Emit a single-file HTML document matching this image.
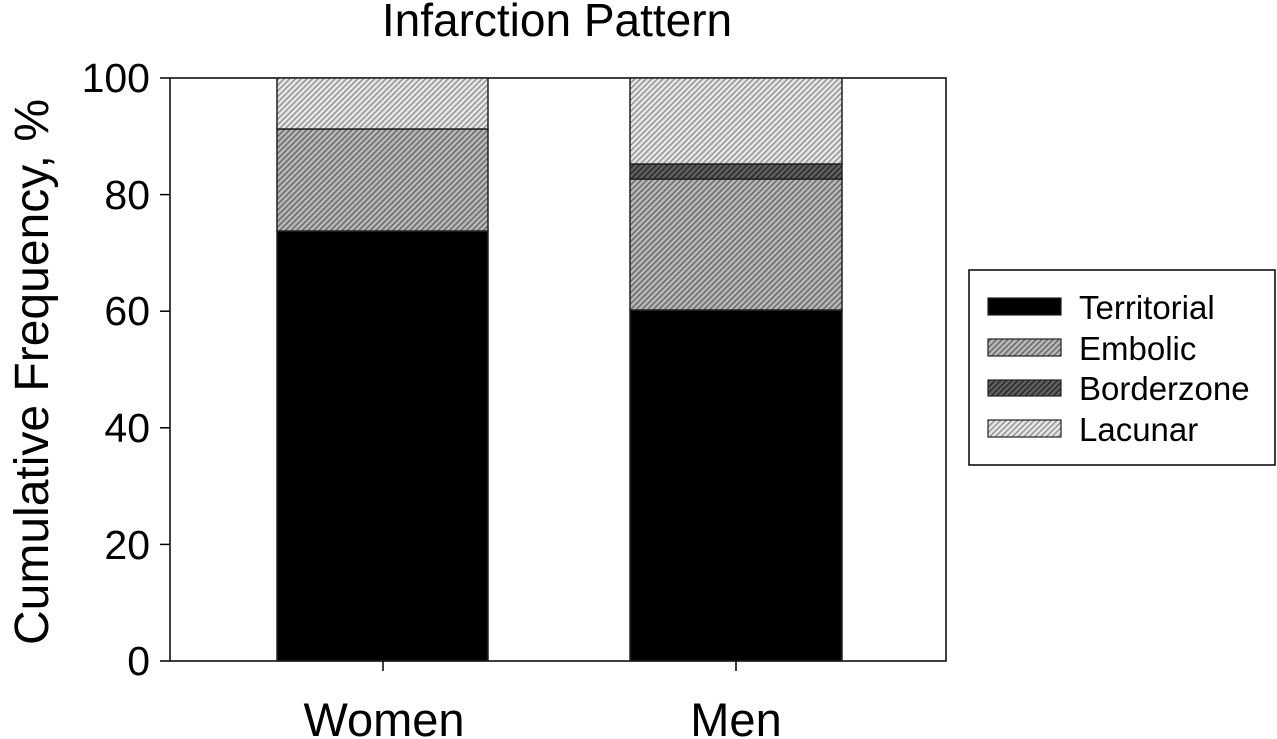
<!DOCTYPE html>
<html><head><style>body{margin:0;background:#fff}svg{display:block}</style></head><body>
<svg width="1277" height="739" xmlns="http://www.w3.org/2000/svg" font-family="Liberation Sans, Arial, sans-serif">
<defs>
<pattern id="lac" width="4" height="4" patternUnits="userSpaceOnUse" patternTransform="rotate(45)"><rect width="4" height="4" fill="#e6e6e6"/><rect width="1.3" height="4" fill="#8a8a8a"/></pattern>
<pattern id="emb" width="4" height="4" patternUnits="userSpaceOnUse" patternTransform="rotate(45)"><rect width="4" height="4" fill="#b8b8b8"/><rect width="1.5" height="4" fill="#6a6a6a"/></pattern>
<pattern id="bor" width="4" height="4" patternUnits="userSpaceOnUse" patternTransform="rotate(45)"><rect width="4" height="4" fill="#606060"/><rect width="1.5" height="4" fill="#2a2a2a"/></pattern>
</defs>
<text x="557" y="36" font-size="46" text-anchor="middle">Infarction Pattern</text>
<rect x="170" y="78" width="776" height="583" fill="none" stroke="#000" stroke-width="1.5"/>
<g stroke="#222" stroke-width="1.5">
<rect x="277" y="231" width="211" height="430" fill="#000"/>
<rect x="277" y="129" width="211" height="102" fill="url(#emb)"/>
<rect x="277" y="78" width="211" height="51" fill="url(#lac)"/>
<rect x="630" y="310" width="212" height="351" fill="#000"/>
<rect x="630" y="179" width="212" height="131" fill="url(#emb)"/>
<rect x="630" y="164" width="212" height="15" fill="url(#bor)"/>
<rect x="630" y="78" width="212" height="86" fill="url(#lac)"/>
</g>
<g stroke="#000" stroke-width="1.5">
<line x1="160" y1="661" x2="170" y2="661"/><line x1="160" y1="544.4" x2="170" y2="544.4"/><line x1="160" y1="427.8" x2="170" y2="427.8"/><line x1="160" y1="311.2" x2="170" y2="311.2"/><line x1="160" y1="194.6" x2="170" y2="194.6"/><line x1="160" y1="78" x2="170" y2="78"/>
<line x1="383" y1="661" x2="383" y2="671"/><line x1="736" y1="661" x2="736" y2="671"/>
</g>
<g font-size="41" text-anchor="end">
<text x="150" y="675">0</text><text x="150" y="559">20</text><text x="150" y="442">40</text><text x="150" y="325">60</text><text x="150" y="209">80</text><text x="150" y="92">100</text>
</g>
<g font-size="47" text-anchor="middle">
<text x="384" y="736">Women</text><text x="736" y="736">Men</text>
</g>
<text transform="translate(48,372) rotate(-90)" font-size="48" text-anchor="middle">Cumulative Frequency, %</text>
<rect x="969" y="270" width="306" height="195" fill="#fff" stroke="#000" stroke-width="1.5"/>
<g stroke="#222" stroke-width="1.2">
<rect x="988" y="298" width="73" height="17" fill="#000"/>
<rect x="988" y="339" width="73" height="17" fill="url(#emb)"/>
<rect x="988" y="380" width="73" height="16" fill="url(#bor)"/>
<rect x="988" y="420" width="73" height="17" fill="url(#lac)"/>
</g>
<g font-size="33">
<text x="1079" y="319">Territorial</text><text x="1079" y="360">Embolic</text><text x="1079" y="400">Borderzone</text><text x="1079" y="441">Lacunar</text>
</g>
</svg>
</body></html>
